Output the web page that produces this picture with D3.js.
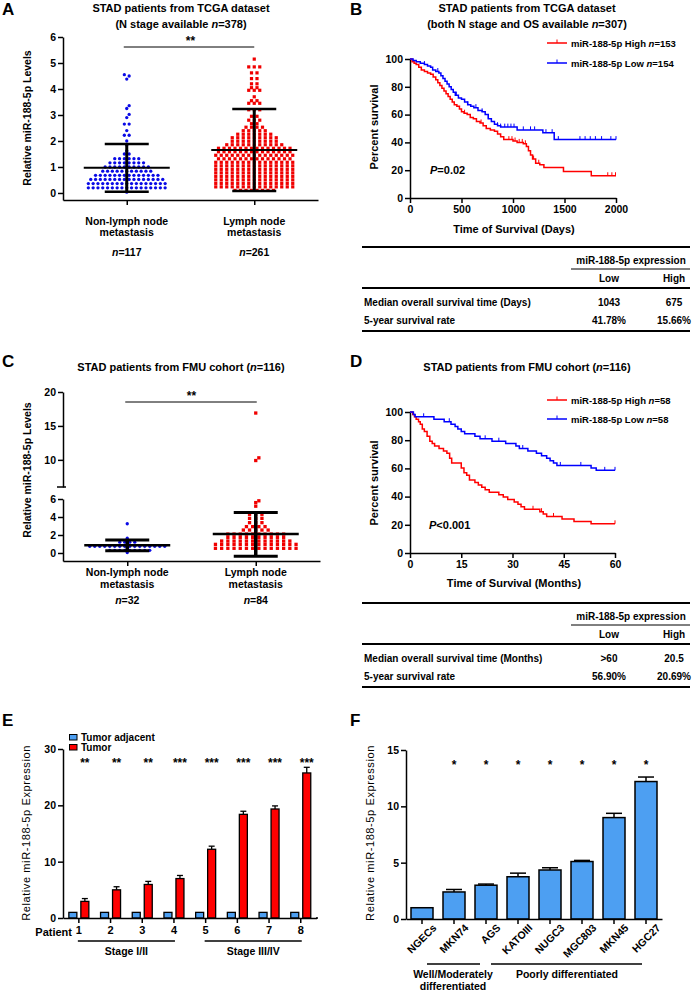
<!DOCTYPE html>
<html><head><meta charset="utf-8">
<script src="https://cdn.jsdelivr.net/npm/d3@7"></script>
<style>body{margin:0;background:#fff}svg{display:block}</style>
</head><body>
<script>
// ================= DATA =================
// Panel A: TCGA scatter
const groupsA = ['Non-lymph node metastasis', 'Lymph node metastasis'];
const labelLinesA = [['Non-lymph node', 'metastasis'], ['Lymph node', 'metastasis']];
const nA = ['117', '261'];
const tcgaNonLN = [0.03,
 0.2,0.2,0.2,0.2,0.2,0.2,0.2,0.2,0.2,0.2,0.2,0.2,0.2,0.2,0.2,0.2,0.2,
 0.36,0.36,0.36,0.36,0.36,0.36,0.36,0.36,0.36,0.36,0.36,0.36,0.36,0.36,0.36,0.36,0.36,
 0.52,0.52,0.52,0.52,0.52,0.52,0.52,0.52,0.52,0.52,0.52,0.52,0.52,0.52,0.52,0.52,
 0.68,0.68,0.68,0.68,0.68,0.68,0.68,0.68,0.68,0.68,0.68,0.68,0.68,0.68,
 0.84,0.84,0.84,0.84,0.84,0.84,0.84,0.84,0.84,0.84,0.84,
 1.0,1.0,1.0,1.0,1.0,1.0,1.0,1.0,1.0,1.0,
 1.16,1.16,1.16,1.16,1.16,1.16,1.16,1.16,
 1.32,1.32,1.32,1.32,1.32,1.32,
 1.5,1.5,1.62,1.85,2.0,2.22,2.22,2.4,2.65,2.65,2.9,3.02,3.25,3.36,4.38,4.5,4.55];
const tcgaLN = [
 0.1,0.1,0.1,0.1,0.1,0.1,0.1,0.1,
 0.235,0.235,0.235,0.235,0.235,0.235,0.235,0.235,0.235,0.235,0.235,0.235,0.235,0.235,0.235,
 0.37,0.37,0.37,0.37,0.37,0.37,0.37,0.37,0.37,0.37,0.37,0.37,0.37,0.37,0.37,
 0.505,0.505,0.505,0.505,0.505,0.505,0.505,0.505,0.505,0.505,0.505,0.505,0.505,0.505,0.505,
 0.64,0.64,0.64,0.64,0.64,0.64,0.64,0.64,0.64,0.64,0.64,0.64,0.64,0.64,0.64,
 0.775,0.775,0.775,0.775,0.775,0.775,0.775,0.775,0.775,0.775,0.775,0.775,0.775,0.775,0.775,
 0.91,0.91,0.91,0.91,0.91,0.91,0.91,0.91,0.91,0.91,0.91,0.91,0.91,0.91,0.91,
 1.045,1.045,1.045,1.045,1.045,1.045,1.045,1.045,1.045,1.045,1.045,1.045,1.045,1.045,1.045,
 1.18,1.18,1.18,1.18,1.18,1.18,1.18,1.18,1.18,1.18,1.18,1.18,1.18,1.18,1.18,
 1.315,1.315,1.315,1.315,1.315,1.315,1.315,1.315,1.315,1.315,1.315,1.315,1.315,1.315,
 1.45,1.45,1.45,1.45,1.45,1.45,1.45,1.45,1.45,1.45,1.45,1.45,1.45,1.45,1.45,
 1.585,1.585,1.585,1.585,1.585,1.585,1.585,1.585,1.585,1.585,1.585,1.585,1.585,1.585,
 1.72,1.72,1.72,1.72,1.72,1.72,1.72,1.72,1.72,1.72,1.72,1.72,1.72,1.72,
 1.855,1.855,1.855,1.855,1.855,1.855,1.855,1.855,1.855,1.855,1.855,
 1.99,1.99,1.99,1.99,1.99,1.99,1.99,1.99,1.99,
 2.125,2.125,2.125,2.125,2.125,2.125,2.125,2.125,2.125,
 2.26,2.26,2.26,2.26,2.26,2.26,2.26,
 2.395,2.395,2.395,2.395,2.395,
 2.53,2.53,2.53,2.53,
 2.665,2.665,2.8,2.8,2.8,2.95,2.95,3.2,3.2,3.2,3.45,3.45,3.45,3.55,3.55,3.7,
 3.95,3.95,3.95,4.05,4.05,4.2,4.2,4.4,4.4,4.62,4.62,4.85,4.85,4.85,5.15];
const meanA = [0.97, 1.65];
const sdTopA = [1.88, 3.23];
const sdBotA = [0.05, 0.08];
const ticksA = [0, 1, 2, 3, 4, 5, 6];

// Panel B: TCGA Kaplan-Meier (days, % survival)
const kmB_high = [[0,100],[20,98],[40,97],[60,96],[85,94],[110,92],[140,91],[170,90],[200,89],[225,87],[250,85],[270,83],[290,81],[310,79],[330,77],[350,75],[370,73],[390,71],[410,69],[430,67],[455,66],[480,64],[500,62],[525,61],[555,60],[585,58],[615,57],[645,55],[680,54],[710,52],[740,50],[780,49],[820,48],[850,46],[880,44],[910,42],[1000,41],[1040,40],[1100,39],[1130,37],[1150,34],[1170,31],[1190,28],[1220,25],[1260,24],[1300,22],[1490,19],[1760,16]];
const kmB_low = [[0,100],[30,99],[60,98],[100,97],[140,96],[170,95],[200,94],[220,92],[250,91],[280,90],[300,88],[320,86],[340,84],[360,82],[380,80],[400,78],[420,76],[440,74],[470,72],[500,71],[530,69],[560,67],[590,66],[620,65],[660,63],[700,62],[730,60],[760,57],[790,55],[820,53],[850,52],[880,51],[1040,49],[1290,47],[1400,42]];
const censorB_high = [530,690,960,990,1020,1060,1090,1120,1200,1250,1920,1960,1995];
const censorB_low = [140,270,450,560,640,700,760,850,880,920,950,980,1010,1100,1170,1210,1320,1380,1440,1650,1700,1750,1800,1860,1950,2000];
const ticksB_x = [0, 500, 1000, 1500, 2000];
const ticksKM_y = [0, 20, 40, 60, 80, 100];
const tableB = [['Median overall survival time (Days)', '1043', '675'], ['5-year survival rate', '41.78%', '15.66%']];

// Panel C: FMU scatter (broken axis)
const nC = ['32', '84'];
const fmuNonLN = [0.05,
 0.3,0.3,0.3,0.3,0.3,0.3,0.3,0.3,0.3,
 0.75,0.75,0.75,0.75,0.75,0.75,0.75,0.75,0.75,0.75,0.75,0.75,0.75,0.75,0.75,0.75,
 1.2,1.2,1.2,1.2,1.65,3.25];
const fmuLN = [
 0.52,0.52,0.52,0.52,0.52,0.52,0.52,0.52,0.52,0.52,0.52,0.52,0.52,0.52,
 0.96,0.96,0.96,0.96,0.96,0.96,0.96,0.96,0.96,0.96,0.96,0.96,0.96,0.96,
 1.33,1.33,1.33,1.33,1.33,1.33,1.33,1.33,1.33,1.33,1.33,1.33,
 1.74,1.74,1.74,1.74,1.74,1.74,1.74,1.74,1.74,1.74,
 2.1,2.1,2.1,2.1,2.1,2.1,2.1,2.1,2.1,2.1,
 2.55,2.55,2.55,2.55,2.55,
 2.93,2.93,2.93,2.93,
 3.37,3.37,3.37,3.85,3.85,3.85,4.3,4.3,4.3,
 5.2,5.6,5.8,9.9,10.3,16.9];
const meanC = [0.85, 2.1];
const sdTopC = [1.45, 4.5];
const sdBotC = [0.25, -0.35];
const ticksC_low = [0, 2, 4, 6];
const ticksC_high = [10, 15, 20];

// Panel D: FMU Kaplan-Meier (months)
const kmD_high = [[0,100],[0.8,98.3],[1.3,96.6],[1.8,94.8],[2.5,93.1],[3.0,91.4],[3.6,87.9],[4.2,86.2],[5.0,82.8],[5.8,79.3],[6.5,77.6],[7.2,75.9],[8.5,74.1],[9.8,72.4],[10.8,70.7],[11.6,67.2],[12.2,63.8],[15.0,60.3],[15.8,56.9],[16.6,55.2],[17.4,51.7],[19.0,50.0],[20.0,48.3],[21.0,46.6],[22.0,44.8],[23.2,43.1],[26.0,41.4],[27.3,39.7],[28.6,37.9],[30.5,36.2],[31.6,34.5],[32.5,32.8],[33.5,31.0],[38.0,29.3],[39.0,27.6],[40.0,25.9],[44.5,24.1],[48.0,22.4],[53.0,20.7]];
const kmD_low = [[0,100],[1.0,98.3],[1.5,96.6],[7.0,94.8],[10.0,93.1],[12.0,91.4],[13.2,89.7],[14.0,87.9],[15.0,86.2],[16.0,84.5],[19.0,82.8],[20.5,81.0],[24.0,79.3],[28.0,77.6],[31.0,75.9],[32.0,74.1],[34.5,72.4],[37.0,70.7],[38.5,69.0],[40.0,67.2],[41.0,65.5],[42.0,63.8],[43.0,62.1],[53.0,60.3],[54.5,58.6]];
const censorD_high = [36, 38.5, 42, 60];
const censorD_low = [4, 11.5, 22, 26, 33, 44, 50, 57, 60];
const ticksD_x = [0, 15, 30, 45, 60];
const tableD = [['Median overall survival time (Months)', '>60', '20.5'], ['5-year survival rate', '56.90%', '20.69%']];

// Panel E: paired tissues
const patients = ['1','2','3','4','5','6','7','8'];
const adjacentVals = [1,1,1,1,1,1,1,1];
const tumorVals = [2.95, 5.0, 5.95, 7.0, 12.2, 18.4, 19.35, 25.75];
const tumorErr = [0.5, 0.55, 0.55, 0.55, 0.55, 0.55, 0.55, 1.0];
const starsE = ['**','**','**','***','***','***','***','***'];
const ticksE = [0, 10, 20, 30];

// Panel F: cell lines
const cells = ['NGECs','MKN74','AGS','KATOIII','NUGC3','MGC803','MKN45','HGC27'];
const cellVals = [1.0, 2.4, 3.0, 3.75, 4.35, 5.1, 9.0, 12.2];
const cellErr = [0, 0.22, 0.1, 0.32, 0.2, 0.1, 0.38, 0.4];
const starsF = ['', '*', '*', '*', '*', '*', '*', '*'];
const ticksF = [0, 5, 10, 15];

// ================= HELPERS =================
const FONT = '"Liberation Sans", Arial, Helvetica, sans-serif';
const RED = '#ff0000', BLUE = '#0000ff', BARBLUE = '#4d9ff2';
const FMT = d3.format('d');
const svg = d3.select('body').append('svg').attr('width', 694).attr('height', 992)
  .style('background', '#fff').attr('font-family', FONT);

function txt(g, x, y, parts, o = {}) {
  const t = g.append('text').attr('x', x).attr('y', y)
    .attr('font-size', o.size || 10.5).attr('font-weight', o.weight || 'bold')
    .attr('text-anchor', o.anchor || 'start').attr('fill', o.fill || '#000')
    .attr('font-family', FONT);
  if (o.rotate) t.attr('transform', `rotate(${o.rotate},${x},${y})`);
  if (o.ls) t.attr('letter-spacing', o.ls);
  (Array.isArray(parts) ? parts : [parts]).forEach(p => {
    if (typeof p === 'string') t.append('tspan').text(p);
    else t.append('tspan').attr('font-style', 'italic').text(p.i);
  });
  return t;
}
function line(g, x1, y1, x2, y2, w = 1.5, c = '#000') {
  return g.append('line').attr('x1', x1).attr('y1', y1).attr('x2', x2).attr('y2', y2)
    .attr('stroke', c).attr('stroke-width', w);
}
function styleAxis(sel, size = 10.5) {
  sel.selectAll('path,line').attr('stroke', '#000').attr('stroke-width', 1.5);
  sel.selectAll('text').attr('font-size', size).attr('font-weight', 'bold').attr('font-family', FONT).attr('fill', '#000');
  return sel;
}
function swarm(values, yFn, cx, step, minD) {
  const groups = d3.groups(values, v => v).sort((a, b) => a[0] - b[0]);
  const placed = [];
  groups.forEach(([v, arr]) => {
    const y = yFn(v), n = arr.length;
    const base = d3.range(n).map(i => (i - (n - 1) / 2) * step);
    const shifts = [0];
    for (let k = 1; k < 30; k++) shifts.push(k * step / 2, -k * step / 2);
    for (const sh of shifts) {
      const xs = base.map(b => b + sh);
      const ok = xs.every(x => placed.every(p => Math.hypot(p.x - x, p.y - y) >= minD));
      if (ok) { xs.forEach(x => placed.push({ x, y, v })); break; }
    }
  });
  return placed.map(p => ({ x: cx + p.x, y: p.y, v: p.v }));
}
function survAt(steps, t) { let s = steps[0][1]; for (const [tt, ss] of steps) if (tt <= t) s = ss; return s; }
function km(g, x, y, steps, censor, tEnd, color) {
  const pts = steps.slice(); pts.push([tEnd, steps[steps.length - 1][1]]);
  g.append('path').attr('d', d3.line().x(d => x(d[0])).y(d => y(d[1])).curve(d3.curveStepAfter)(pts))
    .attr('fill', 'none').attr('stroke', color).attr('stroke-width', 1.5);
  censor.forEach(t => {
    const s = survAt(steps, t);
    line(g, x(t), y(s), x(t), y(s) - 3.5, 1, color);
  });
}
function kmLegend(g, y, color, parts) {
  line(g, 547, y, 567, y, 1.5, color);
  line(g, 557, y, 557, y - 3.5, 1, color);
  txt(g, 571, y + 3.5, parts, { size: 9.5 });
}
function table(g, T, rows) {
  line(g, 362, T, 690, T, 2);
  txt(g, 631, T + 16.5, 'miR-188-5p expression', { size: 10, anchor: 'middle' });
  line(g, 571, T + 22, 690, T + 22, 1);
  txt(g, 609, T + 34.5, 'Low', { size: 10, anchor: 'middle' });
  txt(g, 674, T + 34.5, 'High', { size: 10, anchor: 'middle' });
  line(g, 362, T + 41, 690, T + 41, 2);
  rows.forEach((r, i) => {
    const yy = T + 58.5 + i * 18;
    txt(g, 364, yy, r[0], { size: 10 });
    txt(g, 609, yy, r[1], { size: 10, anchor: 'middle' });
    txt(g, 674, yy, r[2], { size: 10, anchor: 'middle' });
  });
  line(g, 362, T + 84, 690, T + 84, 2);
}
function meanSD(g, cx, yFn, mean, top, bot, mh, ch, w) {
  line(g, cx, yFn(top), cx, yFn(bot), w + 0.5);
  line(g, cx - ch, yFn(top), cx + ch, yFn(top), w);
  line(g, cx - ch, yFn(bot), cx + ch, yFn(bot), w);
  line(g, cx - mh, yFn(mean), cx + mh, yFn(mean), w - 0.5);
}

// ================= PANEL A =================
{
  const g = svg.append('g');
  txt(g, 2, 15, 'A', { size: 17 });
  txt(g, 181, 12, 'STAD patients from TCGA dataset', { size: 11, anchor: 'middle' });
  txt(g, 181, 27.5, ['(N stage available ', { i: 'n' }, '=378)'], { size: 11, anchor: 'middle' });
  const y = d3.scaleLinear().domain([-0.27, 6]).range([200, 37]);
  const x = d3.scalePoint().domain(groupsA).range([63, 318]).padding(0.5);
  styleAxis(g.append('g').attr('transform', 'translate(63,0)')
    .call(d3.axisLeft(y).tickValues(ticksA).tickFormat(FMT).tickSize(5).tickSizeOuter(0).tickPadding(2)));
  styleAxis(g.append('g').attr('transform', 'translate(0,200)')
    .call(d3.axisBottom(x).tickSize(5).tickSizeOuter(0).tickFormat('')));
  txt(g, 31, 118, 'Relative miR-188-5p Levels', { size: 10.5, anchor: 'middle', rotate: -90 });
  const c0 = x(groupsA[0]), c1 = x(groupsA[1]);
  swarm(tcgaNonLN, y, c0, 4.8, 3.6).forEach(p =>
    g.append('circle').attr('cx', p.x).attr('cy', p.y).attr('r', 1.65).attr('fill', '#0a0ae6'));
  swarm(tcgaLN, y, c1, 5.5, 3.4).forEach(p =>
    g.append('rect').attr('x', p.x - 1.6).attr('y', p.y - 1.6).attr('width', 3.2).attr('height', 3.2).attr('fill', '#f00000'));
  [c0, c1].forEach((c, i) => meanSD(g, c, y, meanA[i], sdTopA[i], sdBotA[i], 43, 22, 2.5));
  line(g, c0 - 3, 47, c1, 47, 1);
  txt(g, (c0 + c1) / 2, 45, '**', { size: 12, anchor: 'middle' });
  [c0, c1].forEach((c, i) => {
    txt(g, c, 224.5, labelLinesA[i][0], { size: 10.5, anchor: 'middle' });
    txt(g, c, 235.5, labelLinesA[i][1], { size: 10.5, anchor: 'middle' });
    txt(g, c, 256, [{ i: 'n' }, '=' + nA[i]], { size: 10.5, anchor: 'middle' });
  });
}

// ================= PANEL B =================
{
  const g = svg.append('g');
  txt(g, 350, 15, 'B', { size: 17 });
  txt(g, 527, 12, 'STAD patients from TCGA dataset', { size: 11, anchor: 'middle' });
  txt(g, 527, 27.5, ['(both N stage and OS available ', { i: 'n' }, '=307)'], { size: 11, anchor: 'middle' });
  const x = d3.scaleLinear().domain([0, 2000]).range([410, 616]);
  const y = d3.scaleLinear().domain([0, 100]).range([198, 59]);
  styleAxis(g.append('g').attr('transform', 'translate(410,0)')
    .call(d3.axisLeft(y).tickValues(ticksKM_y).tickFormat(FMT).tickSize(5).tickSizeOuter(0).tickPadding(2)));
  styleAxis(g.append('g').attr('transform', 'translate(0,198)')
    .call(d3.axisBottom(x).tickValues(ticksB_x).tickFormat(FMT).tickSize(5).tickSizeOuter(0).tickPadding(3)));
  km(g, x, y, kmB_high, censorB_high, 2000, RED);
  km(g, x, y, kmB_low, censorB_low, 2000, BLUE);
  kmLegend(g, 43, RED, ['miR-188-5p High ', { i: 'n' }, '=153']);
  kmLegend(g, 63, BLUE, ['miR-188-5p Low ', { i: 'n' }, '=154']);
  txt(g, 430, 174, [{ i: 'P' }, '=0.02'], { size: 11 });
  txt(g, 378, 127, 'Percent survival', { size: 11, anchor: 'middle', rotate: -90 });
  txt(g, 514, 233, 'Time of Survival (Days)', { size: 11, anchor: 'middle' });
  table(g, 247, tableB);
}

// ================= PANEL C =================
{
  const g = svg.append('g');
  txt(g, 2, 367, 'C', { size: 17 });
  txt(g, 181, 371, ['STAD patients from FMU cohort (', { i: 'n' }, '=116)'], { size: 11, anchor: 'middle' });
  const yLow = d3.scaleLinear().domain([-0.89, 6]).range([561, 499]);
  const yHigh = d3.scaleLinear().domain([6, 20]).range([487, 392]);
  const yF = v => (v <= 6 ? yLow(v) : yHigh(v));
  const x = d3.scalePoint().domain(groupsA).range([63, 320]).padding(0.5);
  styleAxis(g.append('g').attr('transform', 'translate(63,0)')
    .call(d3.axisLeft(yLow).tickValues(ticksC_low).tickFormat(FMT).tickSize(5).tickSizeOuter(0).tickPadding(2)));
  styleAxis(g.append('g').attr('transform', 'translate(63,0)')
    .call(d3.axisLeft(yHigh).tickValues(ticksC_high).tickFormat(FMT).tickSize(5).tickSizeOuter(0).tickPadding(2)));
  line(g, 57, 487, 66, 487, 1.5);
  styleAxis(g.append('g').attr('transform', 'translate(0,561)')
    .call(d3.axisBottom(x).tickSize(5).tickSizeOuter(0).tickFormat('')));
  txt(g, 31, 470, 'Relative miR-188-5p Levels', { size: 10.5, anchor: 'middle', rotate: -90 });
  const c0 = x(groupsA[0]), c1 = x(groupsA[1]);
  swarm(fmuNonLN, yF, c0, 5, 3.2).forEach(p =>
    g.append('circle').attr('cx', p.x).attr('cy', p.y).attr('r', 1.65).attr('fill', '#0a0ae6'));
  swarm(fmuLN, yF, c1, 6.2, 3.2).forEach(p =>
    g.append('rect').attr('x', p.x - 1.65).attr('y', p.y - 1.65).attr('width', 3.3).attr('height', 3.3).attr('fill', '#f00000'));
  meanSD(g, c0, yF, meanC[0], sdTopC[0], sdBotC[0], 43, 22, 3);
  meanSD(g, c1, yF, meanC[1], sdTopC[1], sdBotC[1], 43, 22, 3);
  line(g, c0 - 2, 402, c1 + 1, 402, 1);
  txt(g, (c0 + c1) / 2, 400, '**', { size: 12, anchor: 'middle' });
  [c0, c1].forEach((c, i) => {
    txt(g, c, 576, labelLinesA[i][0], { size: 10.5, anchor: 'middle' });
    txt(g, c, 588, labelLinesA[i][1], { size: 10.5, anchor: 'middle' });
    txt(g, c, 604, [{ i: 'n' }, '=' + nC[i]], { size: 10.5, anchor: 'middle' });
  });
}

// ================= PANEL D =================
{
  const g = svg.append('g');
  txt(g, 350, 367, 'D', { size: 17 });
  txt(g, 527, 371, ['STAD patients from FMU cohort (', { i: 'n' }, '=116)'], { size: 11, anchor: 'middle' });
  const x = d3.scaleLinear().domain([0, 60]).range([410, 615]);
  const y = d3.scaleLinear().domain([0, 100]).range([553, 412]);
  styleAxis(g.append('g').attr('transform', 'translate(410,0)')
    .call(d3.axisLeft(y).tickValues(ticksKM_y).tickFormat(FMT).tickSize(5).tickSizeOuter(0).tickPadding(2)));
  styleAxis(g.append('g').attr('transform', 'translate(0,553)')
    .call(d3.axisBottom(x).tickValues(ticksD_x).tickFormat(FMT).tickSize(5).tickSizeOuter(0).tickPadding(3)));
  km(g, x, y, kmD_high, censorD_high, 60, RED);
  km(g, x, y, kmD_low, censorD_low, 60, BLUE);
  kmLegend(g, 400, RED, ['miR-188-5p High ', { i: 'n' }, '=58']);
  kmLegend(g, 419, BLUE, ['miR-188-5p Low ', { i: 'n' }, '=58']);
  txt(g, 429, 529, [{ i: 'P' }, '<0.001'], { size: 11 });
  txt(g, 378, 483, 'Percent survival', { size: 11, anchor: 'middle', rotate: -90 });
  txt(g, 514, 587, 'Time of Survival (Months)', { size: 11, anchor: 'middle' });
  table(g, 603, tableD);
}

// ================= PANEL E =================
{
  const g = svg.append('g');
  txt(g, 2, 726, 'E', { size: 17 });
  const y = d3.scaleLinear().domain([0, 30]).range([918, 749]);
  const x = d3.scaleBand().domain(patients).range([63, 316.6]);
  styleAxis(g.append('g').attr('transform', 'translate(63,0)')
    .call(d3.axisLeft(y).tickValues(ticksE).tickFormat(FMT).tickSize(5).tickSizeOuter(0).tickPadding(2)));
  patients.forEach((p, i) => {
    const c = x(p) + x.bandwidth() / 2;
    g.append('rect').attr('x', c - 10).attr('y', y(adjacentVals[i])).attr('width', 8)
      .attr('height', y(0) - y(adjacentVals[i])).attr('fill', BARBLUE).attr('stroke', '#000').attr('stroke-width', 1.3);
    const top = y(tumorVals[i] + tumorErr[i]);
    line(g, c + 6, y(tumorVals[i]), c + 6, top, 1.3);
    line(g, c + 3, top, c + 9, top, 1.3);
    g.append('rect').attr('x', c + 2).attr('y', y(tumorVals[i])).attr('width', 8)
      .attr('height', y(0) - y(tumorVals[i])).attr('fill', RED).attr('stroke', '#000').attr('stroke-width', 1.3);
    txt(g, c + 6, 767, starsE[i], { size: 12, anchor: 'middle' });
  });
  styleAxis(g.append('g').attr('transform', 'translate(0,918)')
    .call(d3.axisBottom(x).tickSize(5).tickSizeOuter(0).tickPadding(3)), 11);
  line(g, 316, 918, 318, 918, 1.5);
  txt(g, 72, 936, 'Patient', { size: 11, anchor: 'end' });
  const cx = p => x(p) + x.bandwidth() / 2;
  line(g, cx('1') - 1, 941, cx('4') + 1, 941, 1.5);
  line(g, cx('5') - 1, 941, cx('8') + 1, 941, 1.5);
  txt(g, (cx('1') + cx('4')) / 2, 955, 'Stage I/II', { size: 10.5, anchor: 'middle' });
  txt(g, (cx('5') + cx('8')) / 2, 955, 'Stage III/IV', { size: 10.5, anchor: 'middle' });
  g.append('rect').attr('x', 69.5).attr('y', 734.5).attr('width', 7.5).attr('height', 5.5)
    .attr('fill', BARBLUE).attr('stroke', '#000').attr('stroke-width', 1);
  g.append('rect').attr('x', 69.5).attr('y', 744.5).attr('width', 7.5).attr('height', 5.5)
    .attr('fill', RED).attr('stroke', '#000').attr('stroke-width', 1);
  txt(g, 81, 741, 'Tumor adjacent', { size: 10 });
  txt(g, 81, 751, 'Tumor', { size: 10 });
  txt(g, 30, 833, 'Relative miR-188-5p Expression', { size: 11, weight: 'normal', anchor: 'middle', rotate: -90, ls: 0.6 });
}

// ================= PANEL F =================
{
  const g = svg.append('g');
  txt(g, 350, 726, 'F', { size: 17 });
  const y = d3.scaleLinear().domain([0, 15]).range([919, 750]);
  const x = d3.scaleBand().domain(cells).range([406, 662]).paddingInner(0.3125).paddingOuter(0.15625);
  styleAxis(g.append('g').attr('transform', 'translate(406,0)')
    .call(d3.axisLeft(y).tickValues(ticksF).tickFormat(FMT).tickSize(5).tickSizeOuter(0).tickPadding(2)));
  cells.forEach((cName, i) => {
    const c = x(cName) + x.bandwidth() / 2;
    if (cellErr[i] > 0) {
      const top = y(cellVals[i] + cellErr[i]);
      line(g, c, y(cellVals[i]), c, top, 1.5);
      line(g, c - 8, top, c + 8, top, 1.5);
    }
    g.append('rect').attr('x', x(cName)).attr('y', y(cellVals[i])).attr('width', x.bandwidth())
      .attr('height', y(0) - y(cellVals[i])).attr('fill', BARBLUE).attr('stroke', '#000').attr('stroke-width', 1.5);
    if (starsF[i]) txt(g, c, 769, starsF[i], { size: 12, anchor: 'middle' });
  });
  const ax = styleAxis(g.append('g').attr('transform', 'translate(0,919)')
    .call(d3.axisBottom(x).tickSize(5).tickSizeOuter(0).tickPadding(3)), 10.5);
  ax.selectAll('text').attr('text-anchor', 'end').attr('dx', '4').attr('dy', '0.9em')
    .attr('transform', 'rotate(-45)');
  line(g, 427, 964, 480, 964, 1.5);
  line(g, 491, 964, 642, 964, 1.5);
  txt(g, 453, 978, 'Well/Moderately', { size: 10.5, anchor: 'middle' });
  txt(g, 453, 990, 'differentiated', { size: 10.5, anchor: 'middle' });
  txt(g, 567, 978, 'Poorly differentiated', { size: 10.5, anchor: 'middle' });
  txt(g, 374, 833, 'Relative miR-188-5p Expression', { size: 11, weight: 'normal', anchor: 'middle', rotate: -90, ls: 0.6 });
}
</script>
</body></html>
